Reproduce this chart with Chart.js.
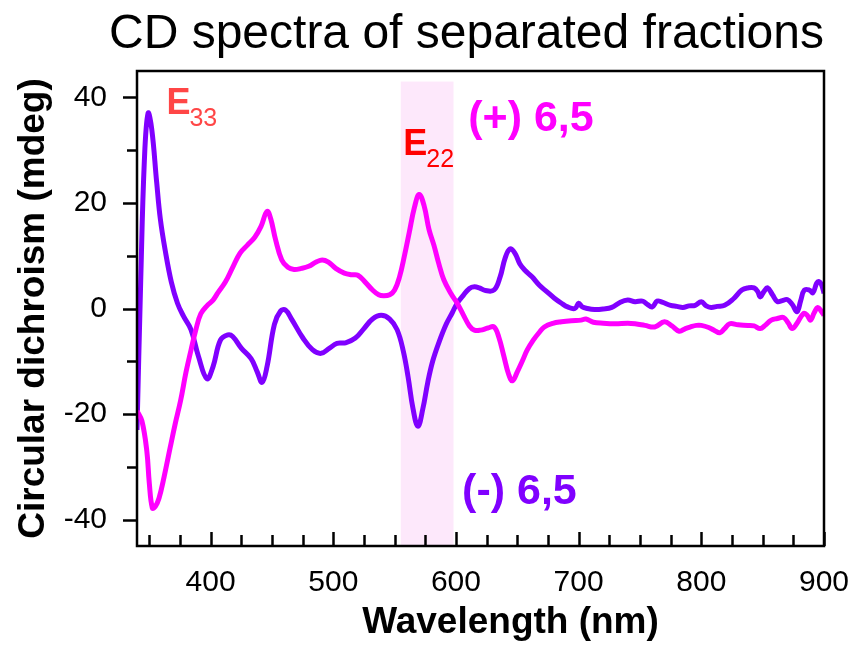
<!DOCTYPE html>
<html>
<head>
<meta charset="utf-8">
<script src="https://cdn.jsdelivr.net/npm/chart.js@4.4.1/dist/chart.umd.min.js"></script>
<style>
  html, body { margin: 0; padding: 0; background: #fff; }
  #wrap { width: 860px; height: 646px; }
</style>
</head>
<body>
<div id="wrap"><canvas id="cd"></canvas></div>
<script>
// (-) 6,5 fraction
const minusNm = [340, 343, 346, 349, 352, 356, 359, 363, 368, 373, 378, 384, 390, 397, 402, 408, 414, 418, 425, 433, 438, 442, 446, 452, 457, 461, 466, 475, 483, 490, 497, 503, 510, 518, 525, 532, 539, 546, 552, 557, 561, 565, 569, 573, 577, 581, 586, 592, 597, 601, 606, 611, 615, 619, 624, 631, 636, 640, 644, 648, 652, 656, 662, 668, 674, 680, 686, 691, 697, 700, 703, 707, 713, 720, 727, 734, 740, 746, 752, 756, 760, 764, 768, 775, 780, 785, 790, 795, 800, 804, 808, 813, 819, 826, 833, 838, 843, 846, 848, 851, 854, 858, 862, 866, 870, 874, 878, 881, 884, 888, 891, 894, 896, 898, 900];
const minusCd = [-23, 5, 28, 37, 34, 24, 17, 11, 5, 1, -1.5, -4, -9, -13.3, -11, -6, -5, -5.3, -7.5, -9.5, -12, -14, -11, -3, -0.5, -0.3, -2, -5.5, -7.8, -8.5, -7.5, -6.6, -6.5, -5.6, -3.8, -2, -1.3, -2, -4, -8, -13, -19, -22.3, -19, -14, -10, -6.5, -3, -0.8, 1, 2.5, 3.8, 4.1, 3.9, 3.4, 3.5, 6, 9.5, 11.3, 10.5, 8.5, 7.3, 6, 4.4, 3.2, 2, 1, 0.3, 0, 1, 0.3, 0, -0.2, -0.1, 0.2, 1.2, 1.6, 1.3, 1.4, 0.8, 0.3, 1.4, 1.2, 0.6, 0.4, 0.2, 0.5, 0.6, 1.3, 0.5, 0.2, 0.4, 0.6, 1.8, 3.5, 3.9, 3.9, 3.2, 2.2, 3.2, 3.9, 2.6, 1.3, 1.5, 1.7, 0.8, -0.6, 1.5, 3.5, 3.5, 3.0, 4.8, 5.1, 4.5, 2.9];

// (+) 6,5 fraction
const plusNm = [340, 344, 348, 350, 352.5, 355, 358, 362, 367, 371, 375.5, 380, 384, 388, 392, 397, 402, 406, 412, 418, 424, 430, 436, 441, 446, 449, 453, 458, 463, 468, 474, 480, 486, 491, 496, 502, 509, 515, 520, 526, 532, 537, 541, 546, 550, 554, 558, 562, 566, 570, 574, 578, 582, 586, 590, 596, 601, 606, 611, 615, 620, 626, 631, 635, 639, 643, 646, 650, 654, 658, 663, 668, 672, 679, 686, 694, 702, 706, 712, 720, 730, 740, 746, 754, 762, 770, 776, 782, 787, 791, 796, 800, 806, 811, 815, 819, 823, 830, 838, 843, 848, 852, 857, 862, 867, 871, 874, 878, 883, 886, 889, 892, 895, 898, 900];
const plusCd = [-19.4, -21.3, -27, -33, -37.8, -37.5, -35.9, -32, -26.4, -22, -17.5, -12, -7.9, -4, -1, 0.5, 1.6, 3, 5, 7.8, 10.5, 12, 13.5, 15.5, 18.4, 17, 13, 9.2, 7.8, 7.4, 7.6, 8, 8.8, 9.2, 8.8, 7.6, 6.7, 6.4, 6.3, 5, 3.5, 2.6, 2.4, 2.6, 3.5, 6, 10, 14.5, 19, 21.6, 19.5, 15, 12, 8.5, 5.5, 2.8, 1, -1.2, -3.3, -4.1, -4.1, -3.7, -3.5, -5.5, -9, -12.5, -13.7, -12, -10, -7.9, -6, -4.5, -3.5, -2.8, -2.5, -2.3, -2.2, -2.0, -2.6, -2.8, -2.9, -2.8, -2.9, -3.2, -3.5, -2.5, -3.3, -4.3, -3.8, -3.5, -3.2, -3.2, -3.6, -4.2, -4.6, -3.8, -2.9, -3.1, -3.2, -3.3, -3.8, -3.2, -2.2, -1.9, -1.7, -2.8, -3.8, -2.8, -1.0, -1.2, -2.2, -0.8, 0.2, -0.6, -1.3];

// axis ticks
const xTicks = [350, 375, 400, 425, 450, 475, 500, 525, 550, 575, 600, 625, 650, 675, 700, 725, 750, 775, 800, 825, 850, 875, 900];
const xLabelTicks = [400, 500, 600, 700, 800, 900];
const yTicks = [-40, -30, -20, -10, 0, 10, 20, 30, 40];
const yLabelTicks = [-40, -20, 0, 20, 40];

// E22 shaded band
const bandStart = 555;
const bandEnd = 598;
const bandTop = 43;

// annotations: text, sub, x (nm), y (mdeg)
const notes = [
  { text: 'E', sub: '33', x: 364, y: 36.8, color: '#ff4646' },
  { text: 'E', sub: '22', x: 557, y: 29.0, color: '#ff0000' },
  { text: '(+) 6,5', sub: '', x: 610, y: 33.6, color: '#ff00ff' },
  { text: '(-) 6,5', sub: '', x: 605, y: -37.1, color: '#8000ff' }
];

const xTitle = 'Wavelength (nm)';
const FONT = '"Liberation Sans", Arial, sans-serif';

const toPoints = (xs, ys) => xs.map((x, i) => ({ x: x, y: ys[i] }));

const decor = {
  id: 'decor',
  beforeDatasetsDraw(chart) {
    const { ctx, scales: { x, y } } = chart;
    const x0 = x.getPixelForValue(bandStart);
    const x1 = x.getPixelForValue(bandEnd);
    const yt = y.getPixelForValue(bandTop);
    ctx.save();
    ctx.fillStyle = '#fde8fb';
    ctx.fillRect(x0, yt, x1 - x0, chart.chartArea.bottom - yt);
    ctx.restore();
  },
  afterDraw(chart) {
    const { ctx, chartArea: a, scales: { x, y } } = chart;
    ctx.save();
    ctx.strokeStyle = '#000';
    ctx.lineWidth = 2.5;
    ctx.strokeRect(a.left, a.top, a.right - a.left, a.bottom - a.top);

    // y ticks point outward
    ctx.beginPath();
    yTicks.forEach(v => {
      const py = Math.round(y.getPixelForValue(v)) + 0.5;
      const len = yLabelTicks.includes(v) ? 14 : 10;
      ctx.moveTo(a.left - len, py);
      ctx.lineTo(a.left, py);
    });
    // x ticks point inward
    xTicks.forEach(v => {
      const px = Math.round(x.getPixelForValue(v)) + 0.5;
      const len = xLabelTicks.includes(v) ? 14 : 11;
      ctx.moveTo(px, a.bottom);
      ctx.lineTo(px, a.bottom - len);
    });
    ctx.stroke();

    // x axis title, sits right of centre like the original
    ctx.fillStyle = '#000';
    ctx.textAlign = 'center';
    ctx.textBaseline = 'alphabetic';
    ctx.font = 'bold 37px ' + FONT;
    ctx.fillText(xTitle, (a.left + a.right) / 2 + 30, a.bottom + 87);

    notes.forEach(n => {
      const px = x.getPixelForValue(n.x);
      const py = y.getPixelForValue(n.y);
      ctx.fillStyle = n.color;
      ctx.textBaseline = 'alphabetic';
      ctx.textAlign = 'left';
      ctx.font = (n.sub ? 'bold 36px ' : 'bold 43px ') + FONT;
      ctx.fillText(n.text, px, py);
      if (n.sub) {
        const w = ctx.measureText(n.text).width;
        ctx.font = '25px ' + FONT;
        ctx.fillText(n.sub, px + w - 1, py + 12);
      }
    });
    ctx.restore();
  }
};

new Chart(document.getElementById('cd'), {
  type: 'line',
  data: {
    datasets: [
      {
        label: '(+) 6,5',
        data: toPoints(plusNm, plusCd),
        borderColor: '#ff00ff',
        borderWidth: 5,
        pointRadius: 0,
        tension: 0.4,
        fill: false
      },
      {
        label: '(-) 6,5',
        data: toPoints(minusNm, minusCd),
        borderColor: '#8000ff',
        borderWidth: 5,
        pointRadius: 0,
        tension: 0.4,
        fill: false
      }
    ]
  },
  options: {
    responsive: true,
    maintainAspectRatio: false,
    animation: false,
    layout: { padding: { left: 0, right: 36, top: 0, bottom: 0 } },
    plugins: {
      legend: { display: false },
      tooltip: { enabled: false },
      title: {
        display: true,
        text: 'CD spectra of separated fractions',
        align: 'end',
        color: '#000',
        font: { family: FONT, size: 48, weight: 'normal' },
        padding: { top: 6, bottom: 7.4 }
      }
    },
    scales: {
      x: {
        type: 'linear',
        min: 340,
        max: 900,
        grid: { display: false, drawTicks: false },
        border: { display: false },
        afterBuildTicks: s => { s.ticks = xTicks.map(v => ({ value: v })); },
        afterFit: s => { s.height = 100; s.paddingLeft = 0; s.paddingRight = 0; },
        ticks: {
          autoSkip: false,
          maxRotation: 0,
          padding: 19,
          color: '#000',
          font: { family: FONT, size: 30 },
          callback: v => xLabelTicks.includes(v) ? String(v) : ''
        }
      },
      y: {
        min: -45,
        max: 45,
        grid: { display: false, drawTicks: false },
        border: { display: false },
        afterBuildTicks: s => { s.ticks = yTicks.map(v => ({ value: v })); },
        afterFit: s => { s.width = 137; },
        ticks: {
          autoSkip: false,
          padding: 30,
          color: '#000',
          font: { family: FONT, size: 30 },
          callback: v => yLabelTicks.includes(v) ? String(v) : ''
        },
        title: {
          display: true,
          text: 'Circular dichroism (mdeg)',
          color: '#000',
          font: { family: FONT, size: 37, weight: 'bold' },
          padding: { top: 12, bottom: 0 }
        }
      }
    }
  },
  plugins: [decor]
});
</script>
</body>
</html>
